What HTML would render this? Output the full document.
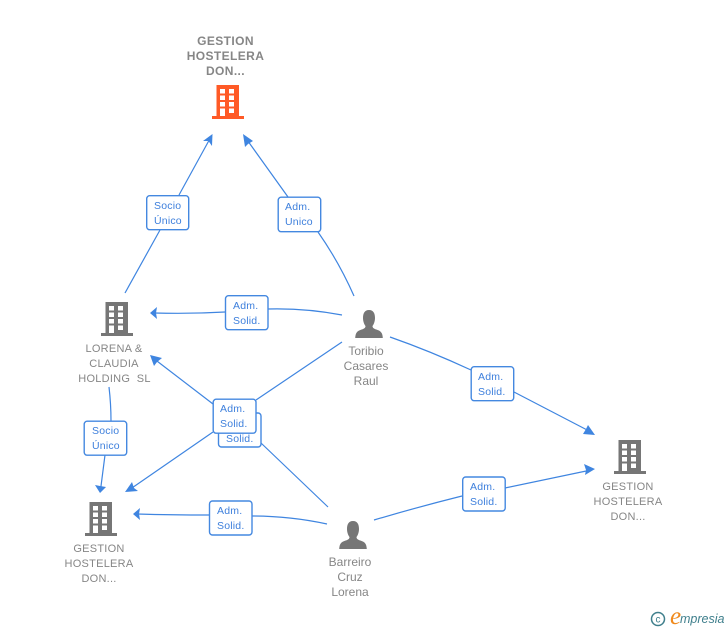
<!DOCTYPE html>
<html>
<head>
<meta charset="utf-8">
<style>
html,body{margin:0;padding:0;background:#fff;}
body{width:728px;height:630px;overflow:hidden;position:relative;}
svg{position:absolute;left:0;top:0;}
text{font-family:"Liberation Sans",sans-serif;}
.n{font-size:12px;fill:#868686;text-anchor:middle;}
.b{font-weight:bold;letter-spacing:.4px;}
.s{font-size:11px;letter-spacing:.25px;}
.l{font-size:10.5px;fill:#3d7fdc;letter-spacing:.2px;}
.e{fill:none;stroke:#3f85e0;stroke-width:1.2;}
.box{fill:#fff;stroke:#4488e0;stroke-width:1.4;}
.a{fill:#3f85e0;}
</style>
</head>
<body>
<svg width="728" height="630" viewBox="0 0 728 630">
<defs>
<symbol id="bld" width="32" height="34" viewBox="0 0 32 34" overflow="visible">
  <path fill-rule="evenodd" fill="currentColor" d="M4.500 0H27V31H32V34H0V31H4.500ZM8 4V8.500H13V4ZM17 4V8.500H22V4ZM8 10.500V15H13V10.500ZM17 10.500V15H22V10.500ZM8 17V21.500H13V17ZM17 17V21.500H22V17ZM8 23.500V31H13V23.500ZM17 23.500V28H22V23.500Z"/>
</symbol>
<symbol id="per" width="28" height="28" viewBox="0 0 28 28" overflow="visible">
  <path fill="#767676" d="M14 0C18.500 0 20 3.500 20 8C20 11.500 18.700 14.500 17.500 16C17.500 18 19 18.800 22 19.800C25.500 21 27.500 22.500 27.800 28H.2C.5 22.500 2.500 21 6 19.800C9 18.800 10.500 18 10.500 16C9.300 14.500 8 11.500 8 8C8 3.500 9.500 0 14 0Z"/>
</symbol>
</defs>

<!-- connectors -->
<path class="e" d="M125 293L160 230M179 195L209.500 139.500"/>
<path class="e" d="M354 296Q339 262 318 232M288 197L245 137"/>
<path class="e" d="M342 315Q305 308 268 309M225 312Q190 314 154 313"/>
<path class="e" d="M390 337Q430 351 471 370M514 392L591 432"/>
<path class="e" d="M374 520Q418 507 462 496M505 488L591 470"/>
<path class="e" d="M327 524Q290 516 252 516M209 515Q172 515 137 514"/>
<path class="e" d="M342 342L256 400M213 432L129 490"/>
<path class="e" d="M328 507L261 443M213 404L153 358"/>
<path class="e" d="M109 387Q111 404 111 421M105 455L100.500 490"/>

<!-- arrowheads -->
<polygon class="a" points="212.500,134 212,146 208.500,141 203,141"/>
<polygon class="a" points="243,134 253,141 248,144 245,147"/>
<polygon class="a" points="150,313 157,307 156,313 157,319"/>
<polygon class="a" points="595,435 583,434 586,429 588,425"/>
<polygon class="a" points="595,469 585,475 586,470 584,464"/>
<polygon class="a" points="133,514 140,508 139,514 140,520"/>
<polygon class="a" points="125,492 132,482 134,488 138,491"/>
<polygon class="a" points="150,355 162,358 157,362 154,366"/>
<polygon class="a" points="100,493 95,485 100,486 106,487"/>

<!-- label boxes -->
<rect class="box" x="146.700" y="195.700" width="42" height="34" rx="3"/>
<text class="l" x="154" y="209">Socio</text>
<text class="l" x="154" y="224">Único</text>

<rect class="box" x="278.200" y="197.200" width="42.500" height="34.500" rx="3"/>
<text class="l" x="285" y="210">Adm.</text>
<text class="l" x="285" y="225">Unico</text>

<rect class="box" x="225.500" y="295.700" width="42.500" height="34" rx="3"/>
<text class="l" x="233" y="309">Adm.</text>
<text class="l" x="233" y="324">Solid.</text>

<rect class="box" x="471.200" y="366.700" width="42.500" height="34" rx="3"/>
<text class="l" x="478" y="380">Adm.</text>
<text class="l" x="478" y="395">Solid.</text>

<rect class="box" x="462.700" y="477" width="42.500" height="34" rx="3"/>
<text class="l" x="470" y="490">Adm.</text>
<text class="l" x="470" y="505">Solid.</text>

<rect class="box" x="209.500" y="501" width="42.500" height="34" rx="3"/>
<text class="l" x="217" y="514">Adm.</text>
<text class="l" x="217" y="529">Solid.</text>

<rect class="box" x="84.200" y="421.200" width="42.500" height="34" rx="3"/>
<text class="l" x="92" y="434">Socio</text>
<text class="l" x="92" y="449">Único</text>

<rect class="box" x="218.500" y="413" width="42.500" height="34" rx="3"/>
<text class="l" x="226" y="442">Solid.</text>

<rect class="box" x="213.200" y="399.200" width="42.800" height="34" rx="3"/>
<text class="l" x="220" y="412">Adm.</text>
<text class="l" x="220" y="427">Solid.</text>

<!-- nodes -->
<use href="#bld" x="212" y="85" width="32" height="34" style="color:#ff5a26"/>
<text class="n b" x="225.500" y="45">GESTION</text>
<text class="n b" x="225.500" y="60">HOSTELERA</text>
<text class="n b" x="225.500" y="75">DON...</text>

<use href="#bld" x="101" y="302" width="32" height="34" style="color:#767676"/>
<text class="n s" x="114" y="352">LORENA &amp;</text>
<text class="n s" x="114" y="367">CLAUDIA</text>
<text class="n s" x="114.500" y="382">HOLDING&#160;&#160;SL</text>

<use href="#bld" x="85" y="502" width="32" height="34" style="color:#767676"/>
<text class="n s" x="99" y="552">GESTION</text>
<text class="n s" x="99" y="567">HOSTELERA</text>
<text class="n s" x="99" y="582">DON...</text>

<use href="#bld" x="614" y="440" width="32" height="34" style="color:#767676"/>
<text class="n s" x="628" y="490">GESTION</text>
<text class="n s" x="628" y="505">HOSTELERA</text>
<text class="n s" x="628" y="520">DON...</text>

<use href="#per" x="355" y="310" width="28" height="28"/>
<text class="n" x="366" y="355">Toribio</text>
<text class="n" x="366" y="370">Casares</text>
<text class="n" x="366" y="385">Raul</text>

<use href="#per" x="339" y="521" width="28" height="28"/>
<text class="n" x="350" y="566">Barreiro</text>
<text class="n" x="350" y="581">Cruz</text>
<text class="n" x="350" y="596">Lorena</text>

<!-- logo -->
<circle cx="658" cy="619" r="6.500" fill="none" stroke="#3f7f8c" stroke-width="1.500"/>
<text x="658" y="622.500" text-anchor="middle" style="font-size:10px;fill:#3f7f8c">c</text>
<text x="670" y="624" style="font-family:'Liberation Serif',serif;font-style:italic;font-size:25px;fill:#f08a1d">e</text>
<text x="680" y="623" style="font-style:italic;font-size:12.500px;fill:#3f7f8c">mpresia</text>
</svg>
</body>
</html>
